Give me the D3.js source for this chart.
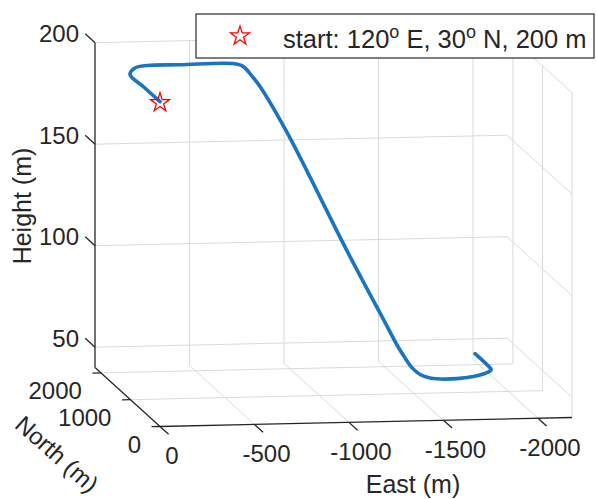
<!DOCTYPE html>
<html>
<head>
<meta charset="utf-8">
<script src="https://cdn.jsdelivr.net/npm/d3@7"></script>
<style>
  html, body { margin: 0; padding: 0; background: #fff; }
  svg { display: block; font-family: "Liberation Sans", Arial, Helvetica, sans-serif; }
</style>
</head>
<body>
<svg id="chart" width="597" height="499"></svg>
<script>

// trajectory samples (metres)
const east = [0, 0, 0, -63, -140, -314, -594, -647, -700, -737, -880, -1197,
  -1409, -1462, -1504, -1541, -1584, -1637, -1716, -1833, -1938, -1965, -1970, -1970];
const north = [0, 540, 1015, 1250, 1330, 1330, 1330, 1330, 1330, 1330, 1330, 1330,
  1330, 1330, 1330, 1330, 1330, 1330, 1330, 1330, 1330, 1360, 1420, 1939];
const height = [200, 200, 200, 200, 200, 200, 200, 198.5, 193, 188.4, 165.5, 106.6,
  69, 59.6, 53.2, 48.3, 44.8, 43, 42.3, 42.8, 45, 46, 46, 46.3];

const startPoint = [0, 0, 200];

const eastLimits = [0, -2180];
const northLimits = [0, 2200];
const heightLimits = [40, 200];

const eastTicks = [0, -500, -1000, -1500, -2000];
const northTicks = [0, 1000, 2000];
const heightTicks = [50, 100, 150, 200];

const legendParts = ['start: 120', 'o', ' E, 30', 'o', ' N, 200 m'];


/**
 * @private
 * @class
 */
class TrajectoryPlot {


  /**
   * @public
   * @constructor
   * @param {SVGElement} svg
   */
  constructor(svg) {

    this._svg = d3.select(svg);

    // screen position of (east 0, north 0, lowest height)
    this._origin = [160, 426.5];

    this._eX = d3.scaleLinear().domain(eastLimits).range([0, 412]);
    this._eY = d3.scaleLinear().domain(eastLimits).range([0, -9]);
    this._nX = d3.scaleLinear().domain(northLimits).range([0, -65]);
    this._nY = d3.scaleLinear().domain(northLimits).range([0, -59]);
    this._hY = d3.scaleLinear().domain(heightLimits).range([0, -324.8]);

    this._gridColor = '#dadada';
    this._axisColor = '#262626';
    this._tickSize = 24;
    this._labelSize = 25;
  }


  /**
   * Project a 3D point to the screen.
   * @public
   * @param {Number} e
   * @param {Number} n
   * @param {Number} h
   * @returns {Array}
   */
  project(e, n, h) {

    return [
      this._origin[0] + this._eX(e) + this._nX(n),
      this._origin[1] + this._eY(e) + this._nY(n) + this._hY(h)
    ];
  }


  /**
   * @private
   */
  _segment(g, a, b, color, width) {

    const p = this.project(a[0], a[1], a[2]);
    const q = this.project(b[0], b[1], b[2]);

    g.append('line')
      .attr('x1', p[0])
      .attr('y1', p[1])
      .attr('x2', q[0])
      .attr('y2', q[1])
      .style('stroke', color)
      .style('stroke-width', width);
  }


  /**
   * @private
   */
  _renderGrid() {

    const g = this._svg.append('g').attr('class', 'grid');
    const [e0, e1] = eastLimits;
    const [n0, n1] = northLimits;
    const [h0, h1] = heightLimits;
    const c = this._gridColor;

    eastTicks.filter(e => e !== e0).forEach(e => {

      this._segment(g, [e, n1, h0], [e, n1, h1], c, 1);
      this._segment(g, [e, n0, h0], [e, n1, h0], c, 1);
    });

    northTicks.forEach(n => {

      this._segment(g, [e1, n, h0], [e1, n, h1], c, 1);

      if (n !== n0) {

        this._segment(g, [e0, n, h0], [e1, n, h0], c, 1);
      }
    });

    heightTicks.forEach(h => {

      this._segment(g, [e0, n1, h], [e1, n1, h], c, 1);
      this._segment(g, [e1, n1, h], [e1, n0, h], c, 1);
    });
  }


  /**
   * @private
   */
  _renderAxes() {

    const g = this._svg.append('g').attr('class', 'axes');
    const [e0, e1] = eastLimits;
    const [n0, n1] = northLimits;
    const [h0, h1] = heightLimits;
    const c = this._axisColor;

    this._segment(g, [e0, n0, h0], [e1, n0, h0], c, 1.3);
    this._segment(g, [e0, n0, h0], [e0, n1, h0], c, 1.3);
    this._segment(g, [e0, n1, h0], [e0, n1, h1], c, 1.3);

    const label = (pos, text, anchor, size, rotate) => g.append('text')
      .attr('transform', `translate(${pos[0]},${pos[1]}) rotate(${rotate || 0})`)
      .attr('text-anchor', anchor)
      .attr('dominant-baseline', 'central')
      .style('font-size', size + 'px')
      .style('fill', c)
      .text(text);

    eastTicks.forEach(e => {

      this._segment(g, [e, n0, h0], [e, n0 - 290, h0], c, 1.3);
      const p = this.project(e, n0, h0);
      label([p[0] + 12, p[1] + 29], d3.format('d')(e).replace('−', '-'), 'middle', this._tickSize);
    });

    northTicks.forEach(n => {

      this._segment(g, [e0 + 45, n, h0], [e0, n, h0], c, 1.3);
      const p = this.project(e0, n, h0);
      label([p[0] - 19, p[1] + 18], String(n), 'end', this._tickSize);
    });

    heightTicks.forEach(h => {

      this._segment(g, [e0, n1, h], [e0, n1 + 330, h], c, 1.3);
      const p = this.project(e0, n1, h);
      label([p[0] - 16, p[1] - 9], String(h), 'end', this._tickSize);
    });

    label([413, 484], 'East (m)', 'middle', this._labelSize);
    label([57, 454], 'North (m)', 'middle', this._tickSize, 41.7);
    label([22, 206], 'Height (m)', 'middle', this._labelSize, -90);
  }


  /**
   * @private
   */
  _renderTrajectory() {

    const points = east.map((e, i) => this.project(e, north[i], height[i]));

    const line = d3.line()
      .x(d => d[0])
      .y(d => d[1])
      .curve(d3.curveCatmullRom.alpha(0.5));

    this._svg.append('path')
      .datum(points)
      .attr('d', line)
      .style('fill', 'none')
      .style('stroke', '#1a74c0')
      .style('stroke-width', 3.6)
      .style('stroke-linejoin', 'round')
      .style('stroke-linecap', 'round');

    const s = this.project(startPoint[0], startPoint[1], startPoint[2]);
    this._star(this._svg, s[0], s[1]);
  }


  /**
   * @private
   */
  _star(g, x, y) {

    g.append('path')
      .attr('transform', `translate(${x},${y + 1})`)
      .attr('d', d3.symbol().type(d3.symbolStar).size(112)())
      .style('fill', 'none')
      .style('stroke', '#ff0000')
      .style('stroke-width', 1.3);
  }


  /**
   * @private
   */
  _renderLegend() {

    const g = this._svg.append('g').attr('class', 'legend');

    g.append('rect')
      .attr('x', 196)
      .attr('y', 14)
      .attr('width', 398)
      .attr('height', 44)
      .style('fill', '#fff')
      .style('stroke', '#3a3a3a')
      .style('stroke-width', 1.3);

    this._star(g, 240, 35);

    const text = g.append('text')
      .attr('x', 283)
      .attr('y', 48)
      .style('font-size', '25.5px')
      .style('fill', '#262626');

    legendParts.forEach((part, i) => {

      const sup = part === 'o';

      text.append('tspan')
        .attr('dy', sup ? -10 : (i ? 10 : 0))
        .style('font-size', sup ? '18px' : null)
        .text(part);
    });
  }


  /**
   * Render plot.
   * @public
   * @returns {TrajectoryPlot}
   */
  render() {

    this._renderGrid();
    this._renderAxes();
    this._renderTrajectory();
    this._renderLegend();

    return this;
  }
}


new TrajectoryPlot(document.getElementById('chart')).render();

</script>
</body>
</html>
